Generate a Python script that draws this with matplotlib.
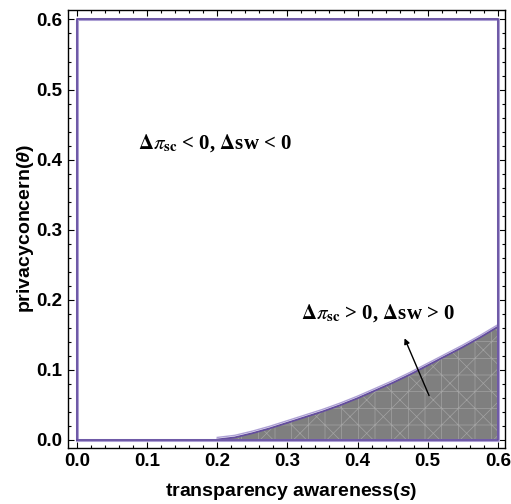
import matplotlib
matplotlib.use("Agg")
import matplotlib.pyplot as plt
import matplotlib.transforms as mtransforms
from matplotlib.ticker import MultipleLocator

# boundary curve: privacy concern vs transparency awareness
s_curve = [0.200, 0.225, 0.250, 0.275, 0.300, 0.325, 0.350, 0.375, 0.400,
           0.425, 0.450, 0.475, 0.500, 0.525, 0.550, 0.575, 0.600]
theta_curve = [0.000, 0.003, 0.009, 0.016, 0.024, 0.032, 0.040, 0.049, 0.059,
               0.070, 0.081, 0.093, 0.106, 0.119, 0.132, 0.146, 0.161]

# outer region rectangle
s_box = [0.0, 0.6, 0.6, 0.0, 0.0]
theta_box = [0.0, 0.0, 0.6, 0.6, 0.0]

x_ticks = [0.0, 0.1, 0.2, 0.3, 0.4, 0.5, 0.6]
y_ticks = [0.0, 0.1, 0.2, 0.3, 0.4, 0.5, 0.6]

label_neg = r"$\mathbf{\Delta}\pi_{\mathbf{sc}}$ < 0, $\mathbf{\Delta}$sw < 0"
label_pos = r"$\mathbf{\Delta}\pi_{\mathbf{sc}}$ > 0, $\mathbf{\Delta}$sw > 0"

plt.rcParams["mathtext.fontset"] = "custom"
plt.rcParams["mathtext.rm"] = "Liberation Sans:bold"
plt.rcParams["mathtext.it"] = "Liberation Sans:italic:bold"
plt.rcParams["mathtext.bf"] = "Liberation Sans:bold"
plt.rcParams["hatch.linewidth"] = 0.5

purple = "#634c9e"
light_purple = "#ada0d4"

fig = plt.figure(figsize=(5.11, 5.04), dpi=100)
ax = fig.add_axes([0.133, 0.1117, 0.855, 0.8685])

# shaded region under the curve
ax.fill_between(s_curve, 0, theta_curve, facecolor="#7f7f7f", linewidth=0)
ax.fill_between(s_curve, 0, theta_curve, facecolor="none", edgecolor="#a3a3a3",
                hatch="x+", linewidth=0)

# region borders (Mathematica draws a doubled edge)
shift = mtransforms.ScaledTranslation(0, 1.5 / 72, fig.dpi_scale_trans)
ax.plot(s_curve, theta_curve, color=light_purple, lw=1.0,
        transform=ax.transData + shift)
ax.plot(s_curve, theta_curve, color=purple, lw=1.3)
ax.plot(s_box, theta_box, color=light_purple, lw=2.2)
ax.plot(s_box, theta_box, color=purple, lw=1.2)

ax.text(0.197, 0.4236, label_neg, ha="center", va="center", fontsize=15,
        family="Liberation Serif", weight="bold", math_fontfamily="stix")
ax.text(0.429, 0.181, label_pos, ha="center", va="center", fontsize=15,
        family="Liberation Serif", weight="bold", math_fontfamily="stix")
ax.annotate("", xy=(0.467, 0.1446), xytext=(0.502, 0.0626),
            arrowprops=dict(arrowstyle="-|>", color="black", lw=1.0,
                            mutation_scale=8, shrinkA=0, shrinkB=0))

ax.set_xlim(-0.0128, 0.61)
ax.set_ylim(-0.0117, 0.6136)
ax.set_xticks(x_ticks)
ax.set_yticks(y_ticks)
ax.set_xticklabels([f"{v:.1f}" for v in x_ticks])
ax.set_yticklabels([f"{v:.1f}" for v in y_ticks])
ax.xaxis.set_minor_locator(MultipleLocator(0.02))
ax.yaxis.set_minor_locator(MultipleLocator(0.02))
ax.tick_params(which="both", direction="in", top=True, right=True,
               labelsize=13.5, width=0.8, pad=4)
ax.tick_params(which="major", length=4)
ax.tick_params(which="minor", length=2)
for lab in ax.get_xticklabels() + ax.get_yticklabels():
    lab.set_family("Liberation Sans")
    lab.set_weight("bold")
for sp in ax.spines.values():
    sp.set_linewidth(1.0)

ax.set_xlabel(r"transparency awareness($s$)", family="Liberation Sans",
              weight="bold", fontsize=14, labelpad=8)
ax.xaxis.set_label_coords(0.512, -0.075)
ax.set_ylabel(r"privacyconcern($\theta$)", family="Liberation Sans",
              weight="bold", fontsize=14)
ax.yaxis.set_label_coords(-0.074, 0.5)

fig.savefig("out.png", dpi=100)
